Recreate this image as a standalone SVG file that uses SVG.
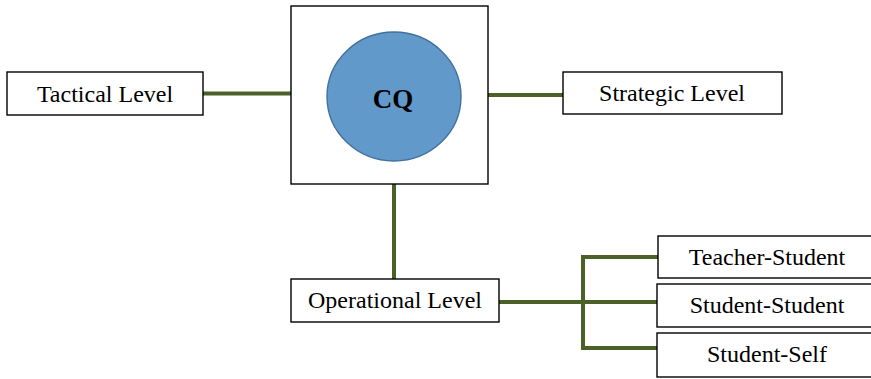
<svg xmlns="http://www.w3.org/2000/svg" width="871" height="379" viewBox="0 0 871 379">
  <style>
    .box { fill: #ffffff; stroke: #000000; stroke-width: 1.4; }
    .label { font-family: "Liberation Serif", "Times New Roman", serif; font-size: 24px; fill: #000000; text-anchor: middle; }
    .core { font-family: "Liberation Serif", "Times New Roman", serif; font-size: 27px; font-weight: bold; fill: #000000; text-anchor: middle; }
    .link { fill: none; stroke: #4A6128; stroke-width: 4; }
  </style>
  <rect width="871" height="379" fill="#ffffff"/>

  <!-- connectors -->
  <g id="connectors">
    <line class="link" x1="203" y1="93.5" x2="291" y2="93.5"/>
    <line class="link" x1="488" y1="95" x2="563" y2="95"/>
    <line class="link" x1="394" y1="184" x2="394" y2="279"/>
    <line class="link" x1="499" y1="302" x2="583" y2="302"/>
    <line class="link" x1="583" y1="255" x2="583" y2="350"/>
    <line class="link" x1="581" y1="257" x2="658" y2="257"/>
    <line class="link" x1="583" y1="302" x2="657" y2="302"/>
    <line class="link" x1="581" y1="348" x2="657" y2="348"/>
  </g>

  <!-- central CQ node -->
  <g id="cq">
    <rect class="box" x="291" y="6" width="197" height="178"/>
    <ellipse cx="394" cy="96.5" rx="67" ry="64.5" fill="#6199CB" stroke="#41719C" stroke-width="1.4"/>
    <text class="core" x="393" y="108">CQ</text>
  </g>

  <g id="tactical">
    <rect class="box" x="7" y="72" width="196" height="43"/>
    <text class="label" x="105" y="101.5">Tactical Level</text>
  </g>

  <g id="strategic">
    <rect class="box" x="563" y="72" width="219" height="42"/>
    <text class="label" x="672" y="100.5">Strategic Level</text>
  </g>

  <g id="operational">
    <rect class="box" x="291" y="279" width="208" height="43"/>
    <text class="label" x="395" y="308">Operational Level</text>
  </g>

  <g id="teacher-student">
    <rect class="box" x="658" y="236" width="220" height="42"/>
    <text class="label" x="767" y="265">Teacher-Student</text>
  </g>

  <g id="student-student">
    <rect class="box" x="657" y="284" width="220" height="43"/>
    <text class="label" x="767" y="312.5">Student-Student</text>
  </g>

  <g id="student-self">
    <rect class="box" x="657" y="333" width="220" height="44"/>
    <text class="label" x="767" y="362">Student-Self</text>
  </g>
</svg>
